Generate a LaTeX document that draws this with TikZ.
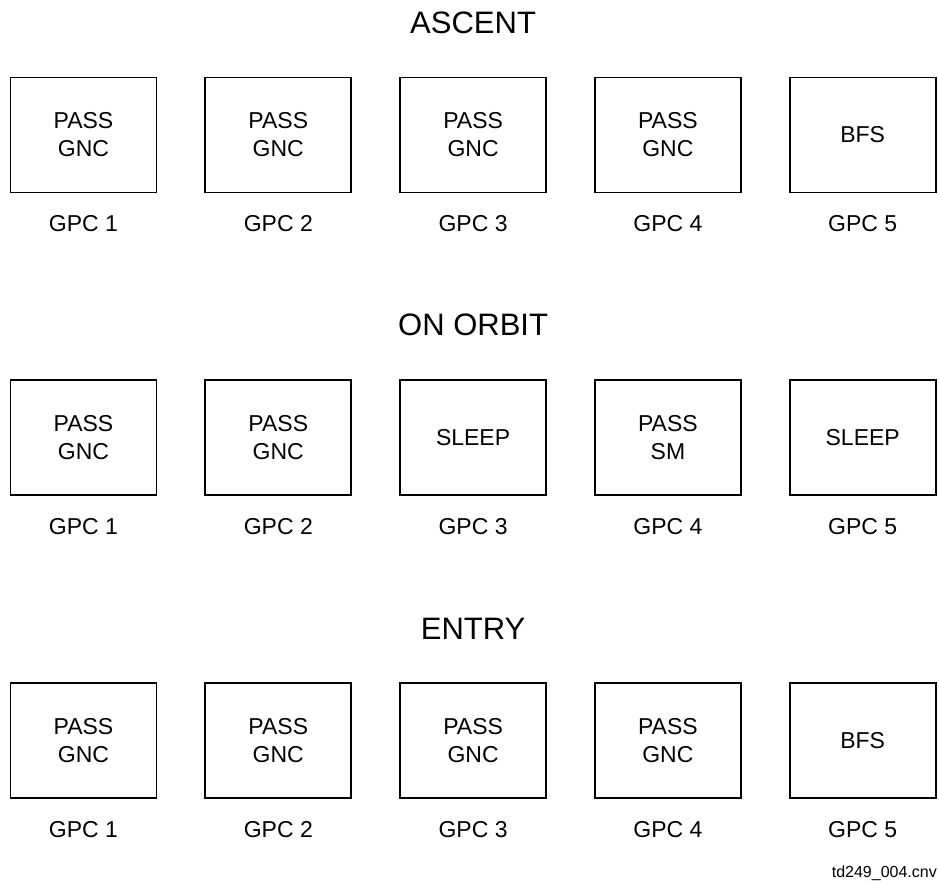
\documentclass[tikz,border=0pt]{standalone}
\usepackage{fontspec}
\setmainfont{Liberation Sans}
\usetikzlibrary{positioning}

\begin{document}
\begin{tikzpicture}[
    x=1pt, y=-1pt,
    node distance=47pt,
    gpc/.style={rectangle, draw, line width=1.8pt, minimum width=146pt, minimum height=115pt, inner sep=0pt, align=center, font=\fontsize{23}{28}\selectfont},
    gpclabel/.style={inner sep=0pt, font=\fontsize{23}{28}\selectfont},
    phase/.style={inner sep=0pt, font=\fontsize{31}{36}\selectfont},
    tag/.style={inner sep=0pt, font=\fontsize{16}{18}\selectfont}
]
\useasboundingbox (0,0) rectangle (939,882);

% Phase 1: Ascent
\node[gpc] (a1) at (83.5,135) {PASS\\GNC};
\node[gpc, right=of a1] (a2) {PASS\\GNC};
\node[gpc, right=of a2] (a3) {PASS\\GNC};
\node[gpc, right=of a3] (a4) {PASS\\GNC};
\node[gpc, right=of a4] (a5) {BFS};
\node[phase, above=43pt of a3] (ascent) {ASCENT};
\node[gpclabel, below=22pt of a1] (la1) {GPC 1};
\node[gpclabel, below=22pt of a2] (la2) {GPC 2};
\node[gpclabel, below=22pt of a3] (la3) {GPC 3};
\node[gpclabel, below=22pt of a4] (la4) {GPC 4};
\node[gpclabel, below=22pt of a5] (la5) {GPC 5};

% Phase 2: On orbit
\node[gpc, below=186pt of a1] (o1) {PASS\\GNC};
\node[gpc, right=of o1] (o2) {PASS\\GNC};
\node[gpc, right=of o2] (o3) {SLEEP};
\node[gpc, right=of o3] (o4) {PASS\\SM};
\node[gpc, right=of o4] (o5) {SLEEP};
\node[phase, above=43pt of o3] (orbit) {ON ORBIT};
\node[gpclabel, below=22pt of o1] (lo1) {GPC 1};
\node[gpclabel, below=22pt of o2] (lo2) {GPC 2};
\node[gpclabel, below=22pt of o3] (lo3) {GPC 3};
\node[gpclabel, below=22pt of o4] (lo4) {GPC 4};
\node[gpclabel, below=22pt of o5] (lo5) {GPC 5};

% Phase 3: Entry
\node[gpc, below=186pt of o1] (e1) {PASS\\GNC};
\node[gpc, right=of e1] (e2) {PASS\\GNC};
\node[gpc, right=of e2] (e3) {PASS\\GNC};
\node[gpc, right=of e3] (e4) {PASS\\GNC};
\node[gpc, right=of e4] (e5) {BFS};
\node[phase, above=43pt of e3] (entry) {ENTRY};
\node[gpclabel, below=22pt of e1] (le1) {GPC 1};
\node[gpclabel, below=22pt of e2] (le2) {GPC 2};
\node[gpclabel, below=22pt of e3] (le3) {GPC 3};
\node[gpclabel, below=22pt of e4] (le4) {GPC 4};
\node[gpclabel, below=22pt of e5] (le5) {GPC 5};

% Drawing number
\node[tag, anchor=base east] (drawno) at (937,877) {td249\_004.cnv};

\end{tikzpicture}
\end{document}
